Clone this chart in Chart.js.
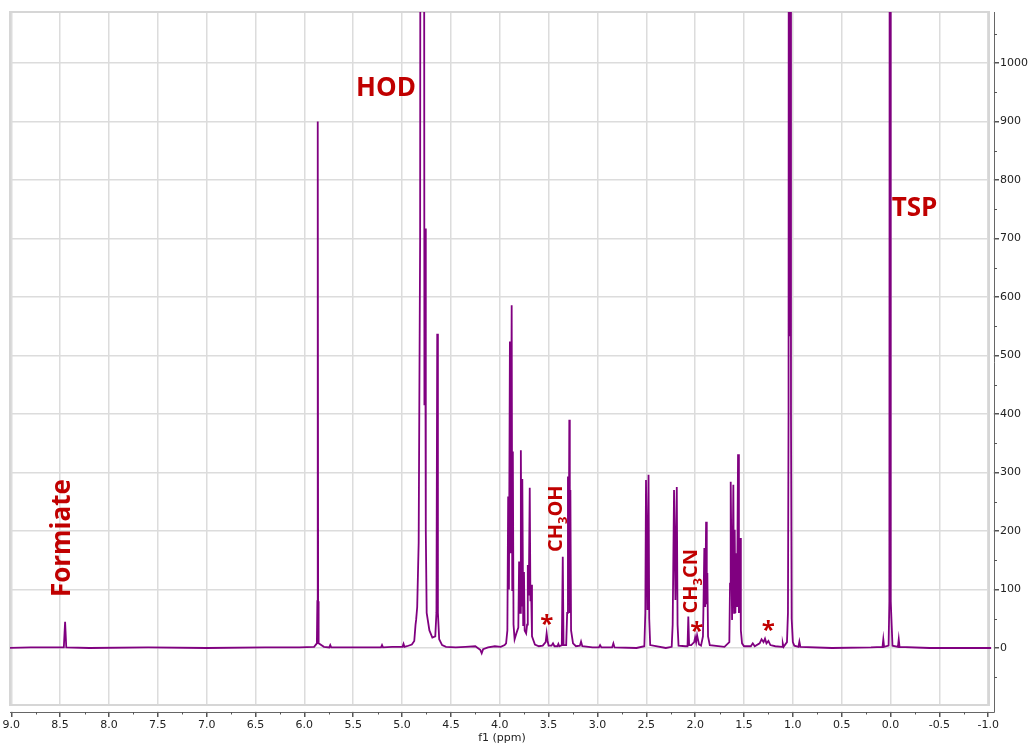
<!DOCTYPE html>
<html>
<head>
<meta charset="utf-8">
<script src="https://cdn.jsdelivr.net/npm/chart.js@4.4.0/dist/chart.umd.min.js"></script>
<style>
  body { margin: 0; background: #fff; }
</style>
</head>
<body>
<canvas id="myChart" width="1029" height="745"></canvas>
<script>
// chemical shift (ppm) and intensity, left to right
const ppm = [
  9.05, 8.80, 8.462, 8.449, 8.437, 8.20, 7.60, 7.00, 6.40, 6.05,
  5.90, 5.872, 5.867, 5.863, 5.859, 5.854, 5.80, 5.745, 5.735, 5.725, 5.50, 5.215, 5.205, 5.195, 5.10, 4.995, 4.985, 4.975,
  4.95, 4.90, 4.875, 4.862, 4.856, 4.845, 4.83, 4.815, 4.806, 4.792, 4.780, 4.771, 4.764, 4.757, 4.748, 4.72, 4.69, 4.66, 4.648, 4.640, 4.633, 4.62, 4.59, 4.55,
  4.45, 4.35, 4.25, 4.20, 4.185, 4.17, 4.12, 4.05, 3.99, 3.95,
  3.935, 3.922, 3.914, 3.906, 3.896, 3.887, 3.878, 3.872, 3.866, 3.859, 3.848,
  3.83, 3.81, 3.802, 3.792, 3.784, 3.776, 3.769, 3.760, 3.752, 3.745, 3.73,
  3.72, 3.713, 3.703, 3.693, 3.686, 3.680, 3.67, 3.64, 3.60, 3.56,
  3.53, 3.52, 3.51, 3.50, 3.47, 3.455, 3.44, 3.41, 3.40, 3.39, 3.365, 3.355, 3.347,
  3.32, 3.31, 3.302, 3.295, 3.288, 3.283, 3.277, 3.27, 3.25, 3.22, 3.18, 3.168, 3.155, 3.05, 2.985, 2.973, 2.96, 2.85, 2.837, 2.825, 2.60,
  2.52, 2.51, 2.503, 2.489, 2.477, 2.47, 2.46, 2.30, 2.24, 2.23, 2.216, 2.202, 2.188, 2.18, 2.17,
  2.10, 2.078, 2.070, 2.062, 2.04, 2.01, 2.00, 1.99, 1.98, 1.97, 1.96, 1.94, 1.92, 1.915, 1.906, 1.897, 1.888, 1.881, 1.875, 1.868, 1.85,
  1.70, 1.65, 1.643, 1.636, 1.622, 1.609, 1.602, 1.595, 1.588, 1.581, 1.571, 1.561, 1.552, 1.540, 1.532, 1.52, 1.50,
  1.43, 1.41, 1.39, 1.34, 1.32, 1.30, 1.285, 1.27, 1.25, 1.23, 1.18, 1.11, 1.103, 1.095, 1.06, 1.05, 1.044, 1.038, 1.031, 1.025, 1.019, 1.012, 1.00, 0.985, 0.943, 0.933, 0.923,
  0.60, 0.20, 0.082, 0.074, 0.066, 0.02, 0.012, 0.005, -0.002, -0.02, -0.076, -0.084, -0.092, -0.40, -1.03
];
const intensity = [
  0, 1, 1, 45, 1, 0, 1, 0, 1, 1,
  2, 8, 80, 900, 80, 8, 2, 1, 5, 1, 1, 1, 5, 1, 2, 2, 7, 2,
  3, 6, 12, 40, 48, 70, 180, 700, 3000, 3200, 3000, 415, 717, 200, 60, 30, 18, 20, 60, 537, 60, 15, 5, 2,
  1, 2, 3, -3, -9, -2, 1, 3, 2, 5,
  8, 30, 259, 100, 524, 162, 586, 99, 336, 40, 15,
  25, 35, 148, 60, 338, 71, 289, 39, 130, 30, 25,
  40, 142, 90, 274, 80, 108, 20, 6, 3, 4,
  10, 25, 12, 4, 4, 8, 3, 3, 7, 3, 5, 156, 5,
  5, 60, 293, 80, 390, 60, 270, 30, 8, 3, 4, 11, 3, 1, 1, 5, 1, 1, 8, 1, 0,
  3, 60, 287, 65, 296, 50, 5, 0, 2, 40, 270, 82, 275, 40, 4,
  3, 3, 54, 5, 5, 10, 18, 10, 22, 14, 6, 4, 20, 70, 171, 70, 216, 75, 128, 20, 5,
  2, 10, 110, 284, 48, 279, 60, 202, 60, 162, 70, 331, 60, 188, 30, 8, 3,
  3, 8, 3, 8, 15, 10, 16, 8, 12, 5, 3, 2, 8, 2, 10, 60, 400, 3000, 533, 3000, 400, 50, 10, 4, 2, 11, 2,
  0, 1, 2, 15, 2, 4, 80, 3000, 80, 4, 2, 15, 2, 0, 0
];

// annotation texts on the spectrum
const notes = [
  { parts: [["HOD", 26, 0]], ppm: 5.471, val: 944, rot: false },
  { parts: [["TSP", 26, 0]], ppm: -0.012, val: 738, rot: false },
  { parts: [["Formiate", 26, 0]], ppm: 8.398, val: 87, rot: true },
  { parts: [["CH", 20, 0], ["3", 13, 5], ["OH", 20, 0]], ppm: 3.365, val: 164, rot: true },
  { parts: [["CH", 20, 0], ["3", 13, 5], ["CN", 20, 0]], ppm: 1.984, val: 59, rot: true }
];
const stars = [
  { ppm: 3.519, val: 48 },
  { ppm: 1.984, val: 36 },
  { ppm: 1.251, val: 39 }
];

const points = ppm.map((p, i) => ({ x: p, y: intensity[i] }));

const isHalf = (v) => Math.abs(v * 2 - Math.round(v * 2)) < 1e-6;
const isHundred = (v) => Math.abs(v / 100 - Math.round(v / 100)) < 1e-6;

const framePlugin = {
  id: "frame",
  beforeDatasetsDraw(chart) {
    const { ctx, chartArea: a } = chart;
    const fr = a.right - 5;
    const fb = a.bottom - 7;
    ctx.save();
    ctx.fillStyle = "#fff";
    ctx.fillRect(fr + 1, a.top - 2, a.right - fr - 1.6, a.bottom - a.top + 1);
    ctx.fillRect(a.left - 2, fb + 1, a.right - a.left + 1, a.bottom - fb - 1.6);
    ctx.strokeStyle = "#d6d6d6";
    ctx.lineWidth = 2;
    ctx.strokeRect(a.left, a.top, fr - a.left, fb - a.top);

    // short minor ticks
    const xs = chart.scales.x;
    const ys = chart.scales.y;
    ctx.strokeStyle = "#555";
    ctx.lineWidth = 1;
    ctx.beginPath();
    xs.ticks.forEach((t) => {
      if (isHalf(t.value)) return;
      const px = Math.round(xs.getPixelForValue(t.value)) + 0.5;
      ctx.moveTo(px, a.bottom);
      ctx.lineTo(px, a.bottom + 2.5);
    });
    ys.ticks.forEach((t) => {
      if (isHundred(t.value) || t.value < 0 && t.value < -60) return;
      const py = Math.round(ys.getPixelForValue(t.value)) + 0.5;
      ctx.moveTo(a.right, py);
      ctx.lineTo(a.right + 3, py);
    });
    ctx.stroke();
    ctx.restore();
  },
  afterDatasetsDraw(chart) {
    const { ctx } = chart;
    const xs = chart.scales.x;
    const ys = chart.scales.y;
    ctx.save();
    ctx.fillStyle = "#c00000";
    notes.forEach((n) => {
      const x = xs.getPixelForValue(n.ppm);
      const y = ys.getPixelForValue(n.val);
      ctx.save();
      ctx.translate(x, y);
      if (n.rot) ctx.rotate(-Math.PI / 2);
      ctx.textAlign = "left";
      ctx.textBaseline = "alphabetic";
      let cx = 0;
      n.parts.forEach(([t, size, dy]) => {
        ctx.font = "bold " + size + "px 'Open Sans'";
        ctx.fillText(t, cx, dy);
        cx += ctx.measureText(t).width;
      });
      ctx.restore();
    });
    ctx.font = "bold 24px 'Open Sans'";
    ctx.textAlign = "center";
    ctx.textBaseline = "alphabetic";
    stars.forEach((s) => {
      const m = ctx.measureText("*");
      const off = (m.actualBoundingBoxAscent - m.actualBoundingBoxDescent) / 2;
      ctx.fillText("*", xs.getPixelForValue(s.ppm), ys.getPixelForValue(s.val) + off);
    });
    ctx.restore();
  }
};

const tickFont = { family: "'DejaVu Sans', Verdana, sans-serif", size: 11 };

new Chart(document.getElementById("myChart"), {
  type: "scatter",
  data: {
    datasets: [
      {
        data: points,
        showLine: true,
        borderColor: "#800080",
        borderWidth: 1.8,
        pointRadius: 0,
        tension: 0
      }
    ]
  },
  options: {
    responsive: false,
    animation: false,
    devicePixelRatio: 1,
    layout: { autoPadding: false, padding: { left: 10, top: 12, right: 0, bottom: 0 } },
    plugins: { legend: { display: false }, tooltip: { enabled: false } },
    scales: {
      x: {
        type: "linear",
        reverse: true,
        min: -1.059,
        max: 9.013,
        afterFit: (s) => { s.height = 33; },
        ticks: {
          stepSize: 0.25,
          includeBounds: false,
          autoSkip: false,
          maxRotation: 0,
          padding: 2,
          color: "#222",
          font: tickFont,
          callback: (v) => (isHalf(v) ? (Math.round(v * 10) / 10).toFixed(1) : "")
        },
        grid: {
          color: (c) => (isHalf(c.tick.value) ? "#dcdcdc" : "rgba(0,0,0,0)"),
          lineWidth: 1.5,
          tickColor: (c) => (isHalf(c.tick.value) ? "#555" : "rgba(0,0,0,0)"),
          tickLength: 5
        },
        border: { color: "#666", width: 1 },
        title: { display: true, text: "f1 (ppm)", color: "#222", font: tickFont, padding: 0 }
      },
      y: {
        type: "linear",
        position: "right",
        min: -109.4,
        max: 1087.2,
        afterFit: (s) => { s.width = 35; },
        ticks: {
          stepSize: 50,
          includeBounds: false,
          autoSkip: false,
          padding: 1,
          color: "#222",
          font: tickFont,
          callback: (v) => (v >= 0 && isHundred(v) ? Math.round(v) : "")
        },
        grid: {
          color: (c) => (c.tick.value >= 0 && c.tick.value <= 1000 && isHundred(c.tick.value) ? "#dcdcdc" : "rgba(0,0,0,0)"),
          lineWidth: 1.5,
          tickColor: (c) => (c.tick.value >= 0 && isHundred(c.tick.value) ? "#555" : "rgba(0,0,0,0)"),
          tickLength: 5
        },
        border: { color: "#666", width: 1 }
      }
    }
  },
  plugins: [framePlugin]
});
</script>
</body>
</html>
